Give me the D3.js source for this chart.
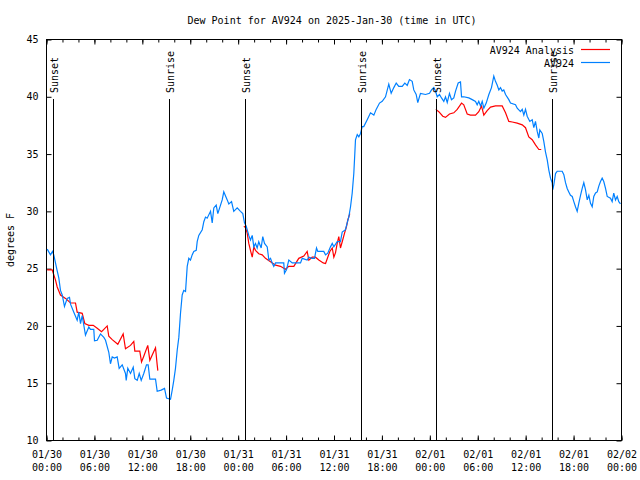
<!DOCTYPE html>
<html lang="en">
<head>
    <meta charset="utf-8">
    <script src="https://cdn.jsdelivr.net/npm/d3@7/dist/d3.min.js"></script>
    <style type="text/css">
        body { margin: 0; background: #fff; }
        svg { display: block; }
        text { font-family: "DejaVu Sans Mono", "Liberation Mono", monospace; font-size: 10px; fill: #000; }
    </style>
</head>
<body>
<script>
    // hours since 01/30 00:00 UTC
    var stationHours = [0.09, 0.50, 0.75, 0.91, 1.34, 1.54, 1.75, 1.97, 2.25, 2.59, 2.88, 3.01, 3.42, 3.84, 4.04, 4.26,
        4.47, 4.88, 5.30, 5.51, 5.92, 6.01, 6.35, 6.76, 7.18, 7.39, 7.80, 8.01, 8.23, 8.51, 8.85, 9.10, 9.48, 9.89, 9.98,
        10.18, 10.52, 10.86, 11.06, 11.36, 11.61, 11.86, 12.18, 12.52, 12.73, 12.94, 13.65, 13.86, 14.36, 14.78, 15.03,
        15.53, 15.74, 15.94, 16.15, 16.37, 16.57, 16.78, 16.99, 17.19, 17.41, 17.62, 17.82, 18.03, 18.24, 18.44, 18.75,
        18.87, 19.07, 19.50, 19.70, 19.91, 20.12, 20.54, 20.75, 20.95, 21.25, 21.45, 22.00, 22.20, 22.63, 22.83, 23.17,
        23.45, 23.88, 24.29, 24.58, 24.79, 25.01, 25.13, 25.33, 25.54, 25.76, 25.96, 26.17, 26.38, 26.58, 26.88, 27.08,
        27.30, 27.64, 27.84, 28.05, 28.26, 28.46, 28.68, 29.71, 29.80, 30.05, 30.34, 30.77, 31.81, 32.02, 32.64, 32.85,
        33.27, 33.56, 33.81, 33.97, 34.72, 34.94, 35.22, 35.56, 35.78, 35.98, 36.40, 36.81, 37.03, 37.44, 37.65, 37.85,
        38.07, 38.28, 38.48, 38.61, 38.69, 38.91, 39.11, 39.32, 39.53, 39.73, 40.16, 40.57, 40.99, 41.28, 41.70, 42.04,
        42.45, 42.86, 43.16, 43.49, 43.79, 44.11, 44.54, 44.87, 45.17, 45.45, 45.79, 45.99, 46.29, 46.49, 46.83, 47.46,
        47.96, 48.21, 48.50, 48.71, 48.92, 49.21, 49.46, 49.75, 49.96, 50.18, 50.46, 50.71, 51.00, 51.22, 51.55, 51.84,
        51.97, 52.25, 52.88, 53.31, 53.72, 53.93, 54.13, 54.35, 54.56, 54.76, 55.06, 55.39, 55.72, 56.01, 56.22, 56.44,
        56.64, 56.85, 57.06, 57.26, 57.48, 57.89, 58.10, 58.73, 58.94, 59.35, 59.57, 59.77, 59.98, 60.19, 60.52, 60.82,
        61.02, 61.23, 61.44, 61.65, 61.77, 62.07, 62.27, 62.48, 62.70, 62.90, 63.11, 63.32, 63.40, 63.52, 63.74, 63.95,
        64.57, 64.78, 64.99, 65.20, 65.40, 65.61, 65.83, 66.03, 66.24, 66.45, 66.65, 66.87, 67.08, 67.28, 67.49, 67.71,
        67.91, 68.12, 68.33, 68.53, 68.75, 68.96, 69.16, 69.37, 69.58, 69.78, 70.00, 70.21, 70.62, 70.83, 71.03, 71.25,
        71.46, 71.66, 71.87];
    var stationDew = [26.7, 26.2, 26.5, 26.2, 24.8, 24.2, 23.1, 22.7, 21.7, 22.4, 22.5, 21.9, 21.2, 20.5, 21.2, 20.2,
        20.9, 19.2, 19.9, 19.7, 19.7, 18.7, 18.75, 19.3, 19.0, 18.75, 17.7, 16.7, 17.3, 17.2, 17.3, 16.3, 16.6, 15.85, 15.25,
        16.3, 15.85, 16.4, 15.4, 15.25, 15.85, 15.25, 15.85, 16.6, 16.6, 15.35, 15.35, 14.3, 14.4, 14.55, 13.7,
        13.6, 14.4, 15.25, 16.3, 17.9, 19.0, 21.1, 22.7, 23.1, 23.0, 25.2, 25.9, 25.75, 26.2, 26.5, 26.6,
        27.35, 27.9, 28.4, 29.1, 29.5, 29.4, 30.0, 29.0, 30.3, 30.55, 29.8, 31.0, 31.7, 31.0, 30.65, 30.85,
        30.0, 30.3, 30.0, 29.8, 29.0, 28.7, 28.4, 27.9, 27.5, 27.9, 26.9, 27.2, 26.8, 27.35, 26.8, 27.8,
        27.2, 26.9, 25.75, 25.9, 25.5, 25.2, 25.5, 25.5, 24.6, 24.9, 25.75, 25.5, 25.5, 25.9, 25.75, 26.0,
        25.9, 25.9, 26.8, 26.5, 26.5, 26.2, 26.35, 26.9, 27.2, 26.9, 27.35, 27.35, 28.2, 28.4, 29.0, 29.5,
        30.4, 31.6, 33.3, 35.1, 36.25, 36.7, 36.5, 36.8, 37.4, 37.4, 38.0, 38.6, 38.4, 38.9, 39.45, 39.6,
        40.0, 41.1, 40.3, 40.8, 41.2, 40.9, 40.9, 41.2, 41.0, 41.5, 41.35, 40.6, 40.2, 39.5, 40.3, 40.2,
        40.3, 40.6, 40.8, 40.5, 40.0, 40.2, 39.9, 39.6, 40.0, 39.5, 40.3, 39.75, 39.9, 40.5, 41.2, 41.3,
        40.0, 40.0, 39.9, 39.75, 39.6, 39.3, 39.6, 39.2, 39.6, 39.0, 39.45, 40.2, 40.8, 41.8, 41.35, 41.0,
        40.6, 40.8, 40.5, 40.6, 40.2, 39.75, 39.45, 39.3, 39.0, 38.7, 38.9, 38.4, 38.9, 38.3, 37.85, 38.0,
        37.3, 37.85, 37.0, 36.4, 37.1, 36.8, 36.1, 35.2, 34.5, 33.6, 32.9, 32.5, 31.9, 32.3, 33.3, 33.5,
        33.5, 33.2, 32.5, 32.0, 31.7, 31.4, 31.3, 30.85, 30.4, 30.0, 30.7, 31.4, 32.0, 32.5, 31.9, 31.0,
        31.4, 30.7, 30.4, 31.3, 31.6, 31.7, 32.2, 32.6, 32.9, 32.6, 32.0, 31.3, 31.15, 30.85, 31.6, 31.0,
        31.3, 30.85, 30.65];

    // null marks a gap in the analysis
    var analysisHours = [0.09, 0.71, 1.13, 1.34, 1.75, 2.38, 3.01, 3.63, 3.84, 4.47, 4.80, 5.30, 5.85, 6.35, 6.89, 7.18,
        7.60, 7.80, 8.23, 8.93, 9.60, 9.89, 10.52, 10.93, 11.06, 11.68, 11.90, 12.18, 12.68, 12.94, 13.65, 13.86, 13.94,
        null,
        24.71, 24.92, 25.13, 25.33, 25.54, 25.76, 25.96, 26.17, 26.58, 27.01, 27.42, 28.05, 28.68, 29.30, 29.93, 30.34,
        30.97, 31.59, 32.22, 32.64, 32.85, 33.27, 33.68, 34.10, 34.65, 34.94, 35.22, 35.48, 35.78, 35.98, 36.19, 36.40,
        36.60, 36.81, 37.03, 37.32, 37.57, 37.73, 37.98,
        null,
        48.75, 49.12, 49.62, 49.96, 50.46, 51.00, 51.43, 51.97, 52.25, 52.68, 53.09, 53.72, 54.13, 54.47, 54.76, 55.18,
        55.60, 56.22, 57.06, 57.48, 57.89, 58.32, 58.94, 59.57, 59.98, 60.39, 60.82, 61.23, 61.65, 61.95];
    var analysisDew = [24.9, 24.9, 24.0, 23.4, 22.7, 22.4, 22.0, 22.0, 21.2, 21.1, 20.2, 20.05, 20.05, 19.8, 19.5, 19.7,
        20.0, 19.1, 18.8, 18.4, 19.3, 18.0, 18.3, 18.65, 17.8, 17.8, 16.85, 17.35, 18.3, 17.0, 18.1, 16.6, 16.1,
        null,
        28.7, 28.6, 28.1, 27.2, 26.6, 26.0, 26.9, 26.6, 26.3, 26.2, 25.9, 25.6, 25.3, 25.2, 24.95, 25.2,
        25.2, 25.9, 26.1, 26.5, 25.75, 26.0, 26.0, 25.75, 25.5, 25.45, 26.0, 26.5, 26.8, 26.0, 26.4, 27.2,
        27.8, 26.8, 27.35, 28.1, 28.7, 29.25, 29.8,
        null,
        38.9, 38.7, 38.3, 38.2, 38.5, 38.6, 38.9, 39.45, 39.3, 38.5, 38.4, 38.4, 38.7, 39.2, 38.4, 38.8,
        39.1, 39.2, 39.2, 38.6, 37.85, 37.8, 37.7, 37.55, 37.3, 36.5, 36.25, 35.8, 35.4, 35.4];

    var sunHours = [0.91, 15.44, 24.88, 39.41, 48.84, 63.40];
    var sunLabels = ['Sunset', 'Sunrise', 'Sunset', 'Sunrise', 'Sunset', 'Sunrise'];
    var yTicks = [10, 15, 20, 25, 30, 35, 40, 45];

    var t0 = Date.UTC(2025, 0, 30);
    function toDate(h) { return new Date(t0 + h * 3600000); }

    var width = 640, height = 480;
    var svg = d3.select('body').append('svg')
            .attr('width', width)
            .attr('height', height);

    var x = d3.scaleUtc()
            .domain([toDate(0), toDate(72)])
            .range([46.5, 621.5]);
    var y = d3.scaleLinear()
            .domain([10, 45])
            .range([440.5, 39.5]);

    var fmtDay = d3.utcFormat('%m/%d'), fmtTime = d3.utcFormat('%H:%M');

    // minor ticks every 2 hours
    svg.append('g')
            .attr('transform', 'translate(0,440.5)')
            .call(d3.axisBottom(x).ticks(d3.utcHour.every(2)).tickSize(-3).tickFormat(''));
    svg.append('g')
            .attr('transform', 'translate(0,39.5)')
            .call(d3.axisTop(x).ticks(d3.utcHour.every(2)).tickSize(-3).tickFormat(''));
    // major ticks every 6 hours
    var xAxis = svg.append('g')
            .attr('transform', 'translate(0,440.5)')
            .call(d3.axisBottom(x).ticks(d3.utcHour.every(6)).tickSize(-5).tickPadding(0).tickFormat(''));
    svg.append('g')
            .attr('transform', 'translate(0,39.5)')
            .call(d3.axisTop(x).ticks(d3.utcHour.every(6)).tickSize(-5).tickFormat(''));
    xAxis.selectAll('.tick').each(function (d) {
        var t = d3.select(this).append('text')
                .attr('text-anchor', 'middle')
                .attr('fill', '#000');
        t.append('tspan').attr('x', 0).attr('y', 17).text(fmtDay(d));
        t.append('tspan').attr('x', 0).attr('y', 30).text(fmtTime(d));
    });

    svg.append('g')
            .attr('transform', 'translate(46.5,0)')
            .call(d3.axisLeft(y).tickValues(yTicks).tickSize(-5).tickPadding(8));
    svg.append('g')
            .attr('transform', 'translate(621.5,0)')
            .call(d3.axisRight(y).tickValues(yTicks).tickSize(-5).tickFormat(''));

    svg.selectAll('.domain').remove();
    svg.selectAll('.tick line').attr('stroke', '#000');
    svg.selectAll('.tick text').attr('font-family', null).attr('font-size', null);

    svg.append('rect')
            .attr('x', 46.5).attr('y', 39.5)
            .attr('width', 575).attr('height', 401)
            .attr('fill', 'none')
            .attr('stroke', '#000');

    // data lines
    var stationPts = stationHours.map(function (h, i) { return [toDate(h), stationDew[i]]; });
    var analysisPts = analysisHours.map(function (h, i) { return [h === null ? null : toDate(h), analysisDew[i]]; });

    var line = d3.line()
            .defined(function (d) { return d[0] !== null && d[1] !== null; })
            .x(function (d) { return x(d[0]); })
            .y(function (d) { return y(d[1]); });

    svg.append('path')
            .datum(analysisPts)
            .attr('d', line)
            .attr('fill', 'none')
            .attr('stroke', '#ff0000')
            .attr('stroke-width', 1.2);
    svg.append('path')
            .datum(stationPts)
            .attr('d', line)
            .attr('fill', 'none')
            .attr('stroke', '#0080ff')
            .attr('stroke-width', 1.2);

    // sunrise / sunset markers
    var sun = svg.selectAll('.sun')
            .data(sunHours)
            .enter()
            .append('g')
            .attr('class', 'sun');
    sun.append('line')
            .attr('x1', function (d) { return Math.floor(x(toDate(d))) + 0.5; })
            .attr('x2', function (d) { return Math.floor(x(toDate(d))) + 0.5; })
            .attr('y1', 440)
            .attr('y2', 99)
            .attr('stroke', '#000');
    sun.append('text')
            .attr('transform', function (d) {
                return 'translate(' + (Math.floor(x(toDate(d))) + 5) + ',93) rotate(-90)';
            })
            .text(function (d, i) { return sunLabels[i]; });

    // title and labels
    svg.append('text')
            .attr('x', 332)
            .attr('y', 24)
            .attr('text-anchor', 'middle')
            .text('Dew Point for AV924 on 2025-Jan-30 (time in UTC)');
    svg.append('text')
            .attr('transform', 'translate(14,240) rotate(-90)')
            .attr('text-anchor', 'middle')
            .text('degrees F');

    // legend
    var legend = [{ name: 'AV924 Analysis', color: '#ff0000' }, { name: 'AV924', color: '#0080ff' }];
    var lg = svg.selectAll('.legend')
            .data(legend)
            .enter()
            .append('g')
            .attr('class', 'legend')
            .attr('transform', function (d, i) { return 'translate(0,' + (49.5 + i * 13) + ')'; });
    lg.append('text')
            .attr('x', 574)
            .attr('y', 4)
            .attr('text-anchor', 'end')
            .text(function (d) { return d.name; });
    lg.append('line')
            .attr('x1', 581).attr('x2', 610)
            .attr('y1', 0).attr('y2', 0)
            .attr('stroke', function (d) { return d.color; })
            .attr('stroke-width', 1.2);
</script>
</body>
</html>
